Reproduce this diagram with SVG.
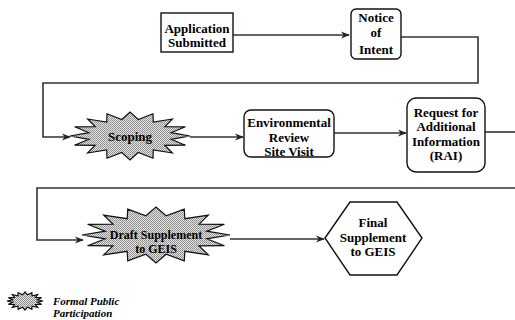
<svg xmlns="http://www.w3.org/2000/svg" width="515" height="320" viewBox="0 0 515 320">
<style>
.box{fill:#fff;stroke:#111;stroke-width:1.4}
.star{fill:url(#dither);stroke:#111;stroke-width:1.2}
.t{font-family:"Liberation Serif","Times New Roman",serif;font-weight:bold;font-size:13px;fill:#000;text-anchor:middle}
.ts{font-size:12px}
.lg{font-family:"Liberation Serif","Times New Roman",serif;font-weight:bold;font-style:italic;font-size:11px;fill:#000}
.c{fill:none;stroke:#333;stroke-width:1.6}
</style>
<defs>
<pattern id="dither" width="2" height="2" patternUnits="userSpaceOnUse">
<rect width="2" height="2" fill="#e2e2e2"/>
<rect width="1" height="1" fill="#8a8a8a"/>
<rect x="1" y="1" width="1" height="1" fill="#9a9a9a"/>
</pattern>
<marker id="ah" viewBox="0 0 10 10" refX="9" refY="5" markerWidth="9" markerHeight="9" markerUnits="userSpaceOnUse" orient="auto">
<path d="M0,1 L10,5 L0,9 L3,5 Z" fill="#222"/>
</marker>
</defs>
<rect width="515" height="320" fill="#fff"/>
<g id="connectors">
<path class="c" d="M233,35 H349" marker-end="url(#ah)"/>
<path class="c" d="M401,37 H478 V83 H43 V137 H70" marker-end="url(#ah)"/>
<path class="c" d="M190,137 H243" marker-end="url(#ah)"/>
<path class="c" d="M334,133 H406" marker-end="url(#ah)"/>
<path class="c" d="M485,132 H515"/>
<path class="c" d="M515,188 H37 V240 H83" marker-end="url(#ah)"/>
<path class="c" d="M230,239 H324" marker-end="url(#ah)"/>
</g>
<g id="application-submitted">
<rect class="box" x="161" y="13" width="72" height="39"/>
<text class="t" x="197" y="33">Application</text>
<text class="t" x="197" y="47">Submitted</text>
</g>
<g id="notice-of-intent">
<rect class="box" x="351" y="9" width="50" height="50" rx="5"/>
<text class="t" x="376" y="22">Notice</text>
<text class="t" x="376" y="37">of</text>
<text class="t" x="376" y="54">Intent</text>
</g>
<g id="scoping">
<polygon class="star" points="190,136 171.2,139.3 185.4,145.2 164.9,145.3 172.4,153 153.3,150 153,158.2 138.2,152.5 130,160 121.8,152.5 107,158.2 106.7,150 87.6,153 95.1,145.3 74.6,145.2 88.8,139.3 70,136 88.8,132.7 74.6,126.8 95.1,126.7 87.6,119 106.7,122 107,113.8 121.8,119.5 130,112 138.2,119.5 153,113.8 153.3,122 172.4,119 164.9,126.7 185.4,126.8 171.2,132.7"/>
<text class="t" x="130" y="141">Scoping</text>
</g>
<g id="environmental-review">
<rect class="box" x="244" y="110" width="90" height="47" rx="7"/>
<text class="t" x="289" y="127">Environmental</text>
<text class="t" x="289" y="142">Review</text>
<text class="t" x="289" y="156">Site Visit</text>
</g>
<g id="rai">
<rect class="box" x="407" y="98" width="78" height="74" rx="9"/>
<text class="t" x="446" y="117">Request for</text>
<text class="t" x="446" y="131">Additional</text>
<text class="t" x="446" y="146">Information</text>
<text class="t" x="446" y="160">(RAI)</text>
</g>
<g id="draft-supplement">
<polygon class="star" points="230,235 206.8,238.8 224.4,245.7 199.1,245.9 208.3,254.8 184.8,251.3 184.3,260.9 166.1,254.2 156,263 145.9,254.2 127.7,260.9 127.2,251.3 103.7,254.8 112.9,245.9 87.6,245.7 105.2,238.8 82,235 105.2,231.2 87.6,224.3 112.9,224.1 103.7,215.2 127.2,218.7 127.7,209.1 145.9,215.8 156,207 166.1,215.8 184.3,209.1 184.8,218.7 208.3,215.2 199.1,224.1 224.4,224.3 206.8,231.2"/>
<text class="t ts" x="156" y="239">Draft Supplement</text>
<text class="t ts" x="156" y="253">to GEIS</text>
</g>
<g id="final-supplement">
<polygon class="box" points="325,238 350,202 397,202 422,238 397,275 350,275"/>
<text class="t" x="373" y="227">Final</text>
<text class="t" x="373" y="242">Supplement</text>
<text class="t" x="373" y="256">to GEIS</text>
</g>
<g id="legend">
<polygon class="star" points="43,301 37.4,302.2 41.6,304.4 35.5,304.5 37.7,307.4 32,306.2 31.9,309.3 27.5,307.2 25,310 22.5,307.2 18.1,309.3 18,306.2 12.3,307.4 14.5,304.5 8.4,304.4 12.6,302.2 7,301 12.6,299.8 8.4,297.6 14.5,297.5 12.3,294.6 18,295.8 18.1,292.7 22.5,294.8 25,292 27.5,294.8 31.9,292.7 32,295.8 37.7,294.6 35.5,297.5 41.6,297.6 37.4,299.8"/>
<text class="lg" x="53" y="305">Formal Public</text>
<text class="lg" x="53" y="317">Participation</text>
</g>
</svg>
